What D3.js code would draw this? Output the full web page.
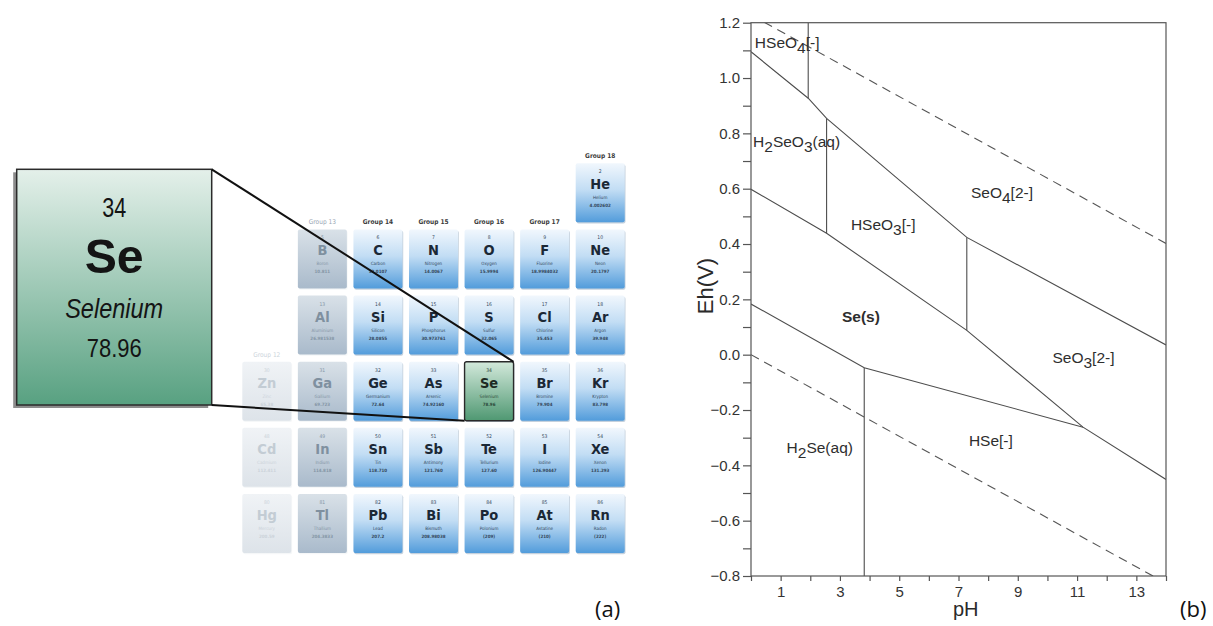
<!DOCTYPE html>
<html>
<head>
<meta charset="utf-8">
<script src="https://cdn.jsdelivr.net/npm/d3@7"></script>
<style>
  body { margin: 0; background: #fff; }
  svg { display: block; }
</style>
</head>
<body>
<svg id="fig" width="1213" height="626"></svg>
<script>
// ---- panel (a): periodic table excerpt ----
var symbols = ["He","B","C","N","O","F","Ne","Al","Si","P","S","Cl","Ar","Zn","Ga","Ge","As","Se","Br","Kr","Cd","In","Sn","Sb","Te","I","Xe","Hg","Tl","Pb","Bi","Po","At","Rn"];
var numbers = [2,5,6,7,8,9,10,13,14,15,16,17,18,30,31,32,33,34,35,36,48,49,50,51,52,53,54,80,81,82,83,84,85,86];
var names = ["Helium","Boron","Carbon","Nitrogen","Oxygen","Fluorine","Neon","Aluminium","Silicon","Phosphorus","Sulfur","Chlorine","Argon",
  "Zinc","Gallium","Germanium","Arsenic","Selenium","Bromine","Krypton","Cadmium","Indium","Tin","Antimony","Tellurium","Iodine","Xenon",
  "Mercury","Thallium","Lead","Bismuth","Polonium","Astatine","Radon"];
var masses = ["4.002602","10.811","12.0107","14.0067","15.9994","18.9984032","20.1797","26.981538","28.0855","30.973761","32.065","35.453","39.948",
  "65.38","69.723","72.64","74.92160","78.96","79.904","83.798","112.411","114.818","118.710","121.760","127.60","126.90447","131.293",
  "200.59","204.3833","207.2","208.98038","(209)","(210)","(222)"];
var groups = [18,13,14,15,16,17,18,13,14,15,16,17,18,12,13,14,15,16,17,18,12,13,14,15,16,17,18,12,13,14,15,16,17,18];
var periods = [1,2,2,2,2,2,2,3,3,3,3,3,3,4,4,4,4,4,4,4,5,5,5,5,5,5,5,6,6,6,6,6,6,6];
var groupLabels = [12,13,14,15,16,17,18];
var groupLabelPeriod = [4,2,2,2,2,2,1];
var focus = "Se";

// ---- panel (b): Eh-pH diagram of selenium ----
var solidLines = [
  [[0,1.095],[1.93,0.927],[2.55,0.854],[7.28,0.424],[14,0.035]],
  [[1.93,1.2],[1.93,0.927]],
  [[2.55,0.854],[2.55,0.439]],
  [[0,0.598],[2.55,0.439],[7.28,0.088],[11.2,-0.262],[14,-0.451]],
  [[7.28,0.424],[7.28,0.088]],
  [[0,0.183],[3.82,-0.047],[11.2,-0.262]],
  [[3.82,-0.047],[3.82,-0.8]]
];
var waterLines = [
  [[0,1.228],[14,0.402]],
  [[0,0],[14,-0.826]]
];
// label pieces: odd positions are subscripts
var speciesText = [["HSeO","4","[-]"],["H","2","SeO","3","(aq)"],["HSeO","3","[-]"],["SeO","4","[2-]"],["Se(s)"],["SeO","3","[2-]"],["H","2","Se(aq)"],["HSe[-]"]];
var speciesPH = [0.13,0.07,3.37,7.42,3.07,10.17,1.2,7.35];
var speciesEh = [1.109,0.752,0.451,0.566,0.119,-0.03,-0.355,-0.33];
var speciesBold = [false,false,false,false,true,false,false,false];

var svg = d3.select("#fig");
var defs = svg.append("defs");

function gradient(id, stops) {
  var g = defs.append("linearGradient").attr("id", id)
    .attr("x1", 0).attr("y1", 0).attr("x2", 0).attr("y2", 1);
  stops.forEach(function (s) {
    g.append("stop").attr("offset", s[0]).attr("stop-color", s[1]);
  });
}
gradient("gBlue", [[0,"#f1f7fd"],[0.45,"#c2ddf4"],[1,"#529cdb"]]);
gradient("gGrey", [[0,"#d9e1e8"],[1,"#a9bacb"]]);
gradient("gFaint", [[0,"#f0f3f6"],[1,"#dde3e9"]]);
gradient("gGreen", [[0,"#d3e9db"],[1,"#4f9872"]]);
gradient("gBig", [[0,"#e4f0ea"],[1,"#58a181"]]);

var condensed = "'Liberation Sans Narrow','DejaVu Sans Condensed','Liberation Sans',Arial,sans-serif";

var colX = d3.scaleLinear().domain([12, 18]).range([242.3, 575.7]);
var rowY = d3.scaleLinear().domain([1, 6]).range([163.3, 494]);
var cellW = 49, cellH = 59;

var elements = symbols.map(function (s, i) {
  return { sym: s, num: numbers[i], name: names[i], mass: masses[i], group: groups[i], period: periods[i] };
});

function styleOf(d) {
  if (d.sym === focus) return { fill: "url(#gGreen)", ink: "#1d2b24", sub: "#2c4a3a", stroke: "#2a2a2a" };
  if (d.group === 12) return { fill: "url(#gFaint)", ink: "#c3ccd4", sub: "#ccd3da", stroke: "none" };
  if (d.group === 13) return { fill: "url(#gGrey)", ink: "#7f909f", sub: "#8596a6", stroke: "none" };
  return { fill: "url(#gBlue)", ink: "#1b2836", sub: "#34485c", stroke: "none" };
}

var table = svg.append("g").attr("class", "table");

// group headers
table.selectAll(".ghead")
  .data(groupLabels)
  .enter().append("text")
  .attr("x", function (g) { return colX(g) + cellW / 2; })
  .attr("y", function (g, i) { return rowY(groupLabelPeriod[i]) - 5; })
  .attr("text-anchor", "middle")
  .attr("font-family", condensed)
  .attr("font-size", 6.5)
  .attr("font-weight", function (g) { return g >= 14 ? "bold" : "normal"; })
  .attr("fill", function (g) { return g === 12 ? "#ccd4db" : g === 13 ? "#98a6b3" : "#3a3a3a"; })
  .text(function (g) { return "Group " + g; });

var cells = table.selectAll(".cell")
  .data(elements)
  .enter().append("g")
  .attr("class", "cell")
  .attr("transform", function (d) { return "translate(" + colX(d.group) + "," + rowY(d.period) + ")"; });

cells.append("rect")
  .attr("x", 0.8).attr("y", 1.2)
  .attr("width", cellW).attr("height", cellH)
  .attr("rx", 2)
  .attr("fill", function (d) { return d.group <= 13 ? "#eef1f4" : "#9fb3c6"; })
  .attr("opacity", 0.6);

cells.append("rect")
  .attr("width", cellW).attr("height", cellH)
  .attr("rx", 2)
  .attr("fill", function (d) { return styleOf(d).fill; })
  .attr("stroke", function (d) { return styleOf(d).stroke; })
  .attr("stroke-width", 1.4);

cells.append("text")
  .attr("x", cellW / 2).attr("y", 10)
  .attr("text-anchor", "middle")
  .attr("font-family", condensed).attr("font-size", 5)
  .attr("fill", function (d) { return styleOf(d).sub; })
  .text(function (d) { return d.num; });

cells.append("text")
  .attr("x", cellW / 2).attr("y", 26)
  .attr("text-anchor", "middle")
  .attr("font-family", condensed).attr("font-size", 14.5).attr("font-weight", "bold")
  .attr("fill", function (d) { return styleOf(d).ink; })
  .text(function (d) { return d.sym; });

cells.append("text")
  .attr("x", cellW / 2).attr("y", 36)
  .attr("text-anchor", "middle")
  .attr("font-family", condensed).attr("font-size", 4.5)
  .attr("fill", function (d) { return styleOf(d).sub; })
  .text(function (d) { return d.name; });

cells.append("text")
  .attr("x", cellW / 2).attr("y", 44)
  .attr("text-anchor", "middle")
  .attr("font-family", condensed).attr("font-size", 4.5).attr("font-weight", "bold")
  .attr("fill", function (d) { return styleOf(d).sub; })
  .text(function (d) { return d.mass; });

// enlarged Se tile
var se = elements.filter(function (d) { return d.sym === focus; })[0];
var big = { x: 16.7, y: 169.3, w: 195, h: 235.7 };

svg.append("rect")
  .attr("x", big.x - 3.5).attr("y", big.y + 3)
  .attr("width", big.w).attr("height", big.h)
  .attr("fill", "#8c8c8c");

svg.append("rect")
  .attr("x", big.x).attr("y", big.y)
  .attr("width", big.w).attr("height", big.h)
  .attr("fill", "url(#gBig)")
  .attr("stroke", "#2b2b2b").attr("stroke-width", 1.5);

var cx = big.x + big.w / 2;
var bigText = [
  { t: se.num, y: 216.7, size: 27, len: 24, weight: "normal", style: "normal" },
  { t: se.sym, y: 272.7, size: 49, len: 59, weight: "bold", style: "normal" },
  { t: se.name, y: 318.3, size: 27, len: 98, weight: "normal", style: "italic" },
  { t: se.mass, y: 356.7, size: 25, len: 55, weight: "normal", style: "normal" }
];
svg.selectAll(".bigtxt")
  .data(bigText)
  .enter().append("text")
  .attr("x", function (d) { return cx - d.len / 2; })
  .attr("y", function (d) { return d.y; })
  .attr("font-family", "'Liberation Sans',Arial,sans-serif")
  .attr("font-size", function (d) { return d.size; })
  .attr("font-weight", function (d) { return d.weight; })
  .attr("font-style", function (d) { return d.style; })
  .attr("textLength", function (d) { return d.len; })
  .attr("lengthAdjust", "spacingAndGlyphs")
  .attr("fill", "#141414")
  .text(function (d) { return d.t; });

// zoom lines from the big tile to the Se cell
var seX = colX(se.group), seY = rowY(se.period);
svg.append("line")
  .attr("x1", big.x + big.w).attr("y1", big.y)
  .attr("x2", seX + cellW).attr("y2", seY)
  .attr("stroke", "#111").attr("stroke-width", 2);
svg.append("line")
  .attr("x1", big.x + big.w).attr("y1", big.y + big.h)
  .attr("x2", seX).attr("y2", seY + cellH)
  .attr("stroke", "#111").attr("stroke-width", 2);

// ---- panel (b) ----
var x = d3.scaleLinear().domain([0, 14]).range([751, 1166]);
var y = d3.scaleLinear().domain([-0.8, 1.2]).range([576, 22.7]);
var lineCol = "#4d4d4d";

defs.append("clipPath").attr("id", "plotClip")
  .append("rect")
  .attr("x", x(0)).attr("y", y(1.2))
  .attr("width", x(14) - x(0)).attr("height", y(-0.8) - y(1.2));

var line = d3.line()
  .x(function (d) { return x(d[0]); })
  .y(function (d) { return y(d[1]); });

var plot = svg.append("g").attr("clip-path", "url(#plotClip)");

plot.selectAll(".water")
  .data(waterLines)
  .enter().append("path")
  .attr("d", line)
  .attr("fill", "none")
  .attr("stroke", "#555")
  .attr("stroke-width", 1.1)
  .attr("stroke-dasharray", "9,6");

plot.selectAll(".bound")
  .data(solidLines)
  .enter().append("path")
  .attr("d", line)
  .attr("fill", "none")
  .attr("stroke", lineCol)
  .attr("stroke-width", 1.1);

// frame
svg.append("rect")
  .attr("x", x(0)).attr("y", y(1.2))
  .attr("width", x(14) - x(0)).attr("height", y(-0.8) - y(1.2))
  .attr("fill", "none")
  .attr("stroke", "#555").attr("stroke-width", 1.2);

var yAxis = d3.axisLeft(y)
  .tickValues(d3.range(-8, 13).map(function (v) { return v / 10; }))
  .tickFormat(function (v) { return Math.round(v * 10) % 2 === 0 ? d3.format(".1f")(v) : ""; })
  .tickSize(8).tickSizeOuter(0).tickPadding(3);

var xAxis = d3.axisBottom(x)
  .tickValues(d3.range(0, 15))
  .tickFormat(function (v) { return v % 2 === 1 ? v : ""; })
  .tickSize(5).tickSizeOuter(0).tickPadding(5);

var gy = svg.append("g").attr("transform", "translate(" + x(0) + ",0)").call(yAxis);
var gx = svg.append("g").attr("transform", "translate(0," + y(-0.8) + ")").call(xAxis);

[gx, gy].forEach(function (g) {
  g.select(".domain").remove();
  g.selectAll(".tick line").attr("stroke", "#555").attr("stroke-width", 1.2);
  g.selectAll(".tick text")
    .attr("fill", "#333")
    .attr("font-family", "'Liberation Sans',Arial,sans-serif")
    .attr("font-size", 15);
});

// species labels
var labels = svg.selectAll(".species")
  .data(speciesText)
  .enter().append("text")
  .attr("x", function (d, i) { return x(speciesPH[i]); })
  .attr("y", function (d, i) { return y(speciesEh[i]); })
  .attr("font-family", "'Liberation Sans',Arial,sans-serif")
  .attr("font-size", 15.5)
  .attr("font-weight", function (d, i) { return speciesBold[i] ? "bold" : "normal"; })
  .attr("fill", "#2e2e2e");

labels.each(function (d) {
  var t = d3.select(this);
  d.forEach(function (piece, k) {
    var s = t.append("tspan").text(piece);
    if (k > 0) s.attr("dy", k % 2 === 1 ? 5 : -5);
  });
});

// axis titles
svg.append("text")
  .attr("transform", "translate(713,286) rotate(-90)")
  .attr("text-anchor", "middle")
  .attr("font-family", "'Liberation Sans',Arial,sans-serif")
  .attr("font-size", 22)
  .attr("fill", "#2a2a2a")
  .text("Eh(V)");

svg.append("text")
  .attr("x", 953).attr("y", 616)
  .attr("font-family", "'Liberation Sans',Arial,sans-serif")
  .attr("font-size", 20)
  .attr("fill", "#2a2a2a")
  .text("pH");

// panel letters
svg.append("text").attr("x", 595).attr("y", 617)
  .attr("font-family", "'Open Sans','Noto Sans',sans-serif").attr("font-size", 22)
  .attr("fill", "#111").text("(a)");
svg.append("text").attr("x", 1180).attr("y", 617)
  .attr("font-family", "'Open Sans','Noto Sans',sans-serif").attr("font-size", 22)
  .attr("fill", "#111").text("(b)");
</script>
</body>
</html>
